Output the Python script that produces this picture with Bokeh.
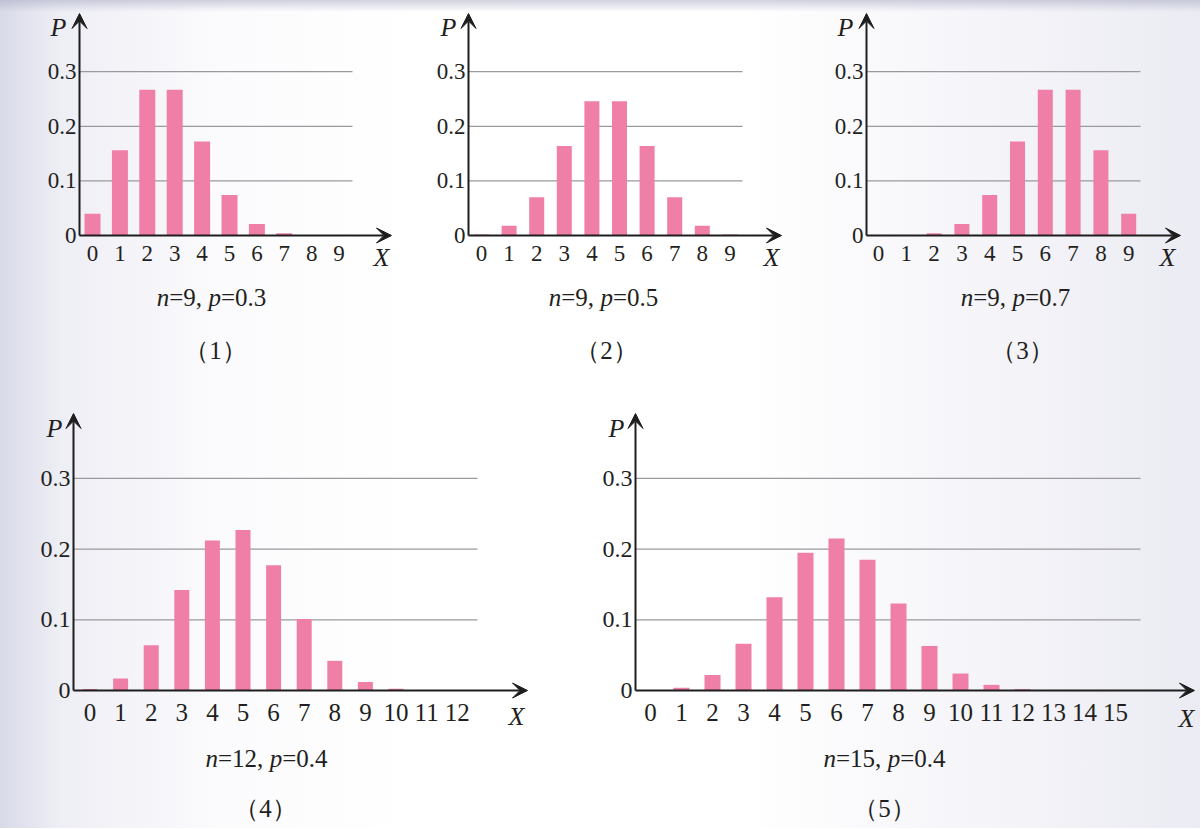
from bokeh.plotting import figure
from bokeh.models import Range1d, Arrow, VeeHead, Label
from bokeh.core.properties import value
from bokeh.layouts import row, column
from bokeh.embed import file_html
from bokeh.resources import INLINE

# ---------------- data ----------------
k_9 = list(range(10))
k_12 = list(range(13))
k_15 = list(range(16))

prob_n9_p03 = [0.040, 0.156, 0.267, 0.267, 0.172, 0.074, 0.021, 0.004, 0.0004, 0.00002]
prob_n9_p05 = [0.002, 0.018, 0.070, 0.164, 0.246, 0.246, 0.164, 0.070, 0.018, 0.002]
prob_n9_p07 = [0.00002, 0.0004, 0.004, 0.021, 0.074, 0.172, 0.267, 0.267, 0.156, 0.040]
prob_n12_p04 = [0.002, 0.017, 0.064, 0.142, 0.212, 0.227, 0.177, 0.101, 0.042, 0.012,
                0.0025, 0.0003, 0.00002]
prob_n15_p04 = [0.0005, 0.004, 0.022, 0.066, 0.132, 0.195, 0.215, 0.185, 0.123, 0.063,
                0.024, 0.008, 0.002, 0.0003, 0.00003, 0.000001]

y_ticks = [0, 0.1, 0.2, 0.3]
y_tick_labels = ["0", "0.1", "0.2", "0.3"]
grid_levels = [0.1, 0.2, 0.3]

n_values = ["9", "9", "9", "12", "15"]
p_values = ["0.3", "0.5", "0.7", "0.4", "0.4"]
panel_tags = ["（1）", "（2）", "（3）", "（4）", "（5）"]
x_label = "X"
y_label = "P"

# ---------------- style / layout ----------------
SERIF = "Liberation Serif"
TXT = "#231f20"
BAR = "#f07fa8"
GRID = "#9a9a9e"
AX = "#1e1e1e"

GEOM = [
    dict(fx0=0, fx1=400, fy0=0, fy1=390, yax=79, xax=235, xtip=391, ytip=13, gend=352,
         x0=92, sp=27.4, py=54.6, bw=16, P=(58, 27), X=(381, 257), cap=(211, 297),
         tag=(215, 350), tick=23, ylab=23, toff=18),
    dict(fx0=400, fx1=800, fy0=0, fy1=390, yax=468, xax=235, xtip=781, ytip=13, gend=742,
         x0=481, sp=27.6, py=54.6, bw=15, P=(448, 27), X=(771, 257), cap=(603, 297),
         tag=(606, 350), tick=23, ylab=23, toff=18),
    dict(fx0=800, fx1=1200, fy0=0, fy1=390, yax=866, xax=235, xtip=1180, ytip=13, gend=1140,
         x0=878, sp=27.8, py=54.6, bw=15, P=(845, 27), X=(1167, 257), cap=(1015, 297),
         tag=(1022, 350), tick=23, ylab=23, toff=18),
    dict(fx0=0, fx1=580, fy0=390, fy1=828, yax=73, xax=690, xtip=527, ytip=413, gend=477,
         x0=89.5, sp=30.6, py=70.7, bw=15, P=(54, 428), X=(516, 716), cap=(266, 758),
         tag=(265, 808), tick=25, ylab=24, toff=22),
    dict(fx0=580, fx1=1200, fy0=390, fy1=828, yax=635, xax=690, xtip=1194, ytip=413, gend=1140,
         x0=650, sp=31.0, py=70.7, bw=16, P=(616, 428), X=(1186, 718), cap=(884, 758),
         tag=(884, 808), tick=25, ylab=24, toff=22),
]

EM = {"=": 0.564, ",": 0.25, " ": 0.25, ".": 0.25}


def text_w(s, fs):
    return sum(EM.get(c, 0.5) for c in s) * fs


def make_panel(ks, probs, n_str, p_str, tag, g):
    W = g["fx1"] - g["fx0"]
    H = g["fy1"] - g["fy0"]
    sp, x0, py, xax = g["sp"], g["x0"], g["py"], g["xax"]

    def dx(px):
        return (px - x0) / sp

    def dy(px):
        return (xax - px) * 0.1 / py

    p = figure(width=W, height=H,
               x_range=Range1d(dx(g["fx0"]), dx(g["fx1"])),
               y_range=Range1d(dy(g["fy1"]), dy(g["fy0"])),
               x_axis_location=None, y_axis_location=None,
               min_border=0, output_backend="svg", toolbar_location=None, title=None)
    p.background_fill_color = None
    p.border_fill_color = None
    p.outline_line_color = None
    p.xgrid.visible = False
    p.ygrid.visible = False

    # horizontal reference lines
    p.segment(x0=[dx(g["yax"])] * len(grid_levels), x1=[dx(g["gend"])] * len(grid_levels),
              y0=grid_levels, y1=grid_levels, line_color=GRID, line_width=1.2)

    # bars
    p.vbar(x=ks, top=probs, bottom=0, width=g["bw"] / sp, fill_color=BAR, line_color=None)

    # axes with arrow heads
    ox, oy = dx(g["yax"]), 0
    p.add_layout(Arrow(end=VeeHead(size=15, fill_color=AX, line_color=AX, line_width=1),
                       x_start=ox, y_start=oy, x_end=dx(g["xtip"]), y_end=oy,
                       line_color=AX, line_width=2))
    p.add_layout(Arrow(end=VeeHead(size=15, fill_color=AX, line_color=AX, line_width=1),
                       x_start=ox, y_start=oy, x_end=ox, y_end=dy(g["ytip"]),
                       line_color=AX, line_width=2))

    # tick labels
    p.text(x=ks, y=[dy(xax + g["toff"])] * len(ks), text=[str(k) for k in ks],
           text_font=value(SERIF), text_font_size=f"{g['tick']}px", text_color=TXT,
           text_align="center", text_baseline="middle")
    p.text(x=[dx(g["yax"] - 3)] * len(y_ticks), y=y_ticks, text=y_tick_labels,
           text_font=value(SERIF), text_font_size=f"{g['ylab']}px", text_color=TXT,
           text_align="right", text_baseline="middle")

    # axis names
    for name, pos in ((y_label, g["P"]), (x_label, g["X"])):
        p.add_layout(Label(x=dx(pos[0]), y=dy(pos[1]), text=name, text_font=SERIF,
                           text_font_style="italic", text_font_size="26px", text_color=TXT,
                           text_align="center", text_baseline="middle"))

    # caption  n=.., p=..
    fs = 25
    pieces = [("n", True), ("=" + n_str + ", ", False), ("p", True), ("=" + p_str, False)]
    total = sum(text_w(s, fs) for s, _ in pieces)
    cx = g["cap"][0] - total / 2
    for s, it in pieces:
        p.add_layout(Label(x=dx(cx), y=dy(g["cap"][1]), text=s, text_font=SERIF,
                           text_font_style="italic" if it else "normal",
                           text_font_size=f"{fs}px", text_color=TXT,
                           text_align="left", text_baseline="middle"))
        cx += text_w(s, fs)

    p.add_layout(Label(x=dx(g["tag"][0]), y=dy(g["tag"][1]), text=tag, text_font=SERIF,
                       text_font_size="25px", text_color=TXT,
                       text_align="center", text_baseline="middle"))
    return p


series = [(k_9, prob_n9_p03), (k_9, prob_n9_p05), (k_9, prob_n9_p07),
          (k_12, prob_n12_p04), (k_15, prob_n15_p04)]
panels = [make_panel(ks, pr, n_values[i], p_values[i], panel_tags[i], GEOM[i])
          for i, (ks, pr) in enumerate(series)]

layout = column(row(panels[0], panels[1], panels[2]), row(panels[3], panels[4]))
layout.styles = {
    "background": ("linear-gradient(to bottom, rgba(170,172,196,0.55) 0px, "
                   "rgba(255,255,255,0) 12px), "
                   "linear-gradient(to right, #d9dae8 0%, #eeeef5 5%, #fbfbfd 18%, "
                   "#ffffff 35%, #ffffff 62%, #f6f6fa 80%, #ebebf3 100%)")
}

open("out.html", "w").write(file_html(layout, INLINE))
